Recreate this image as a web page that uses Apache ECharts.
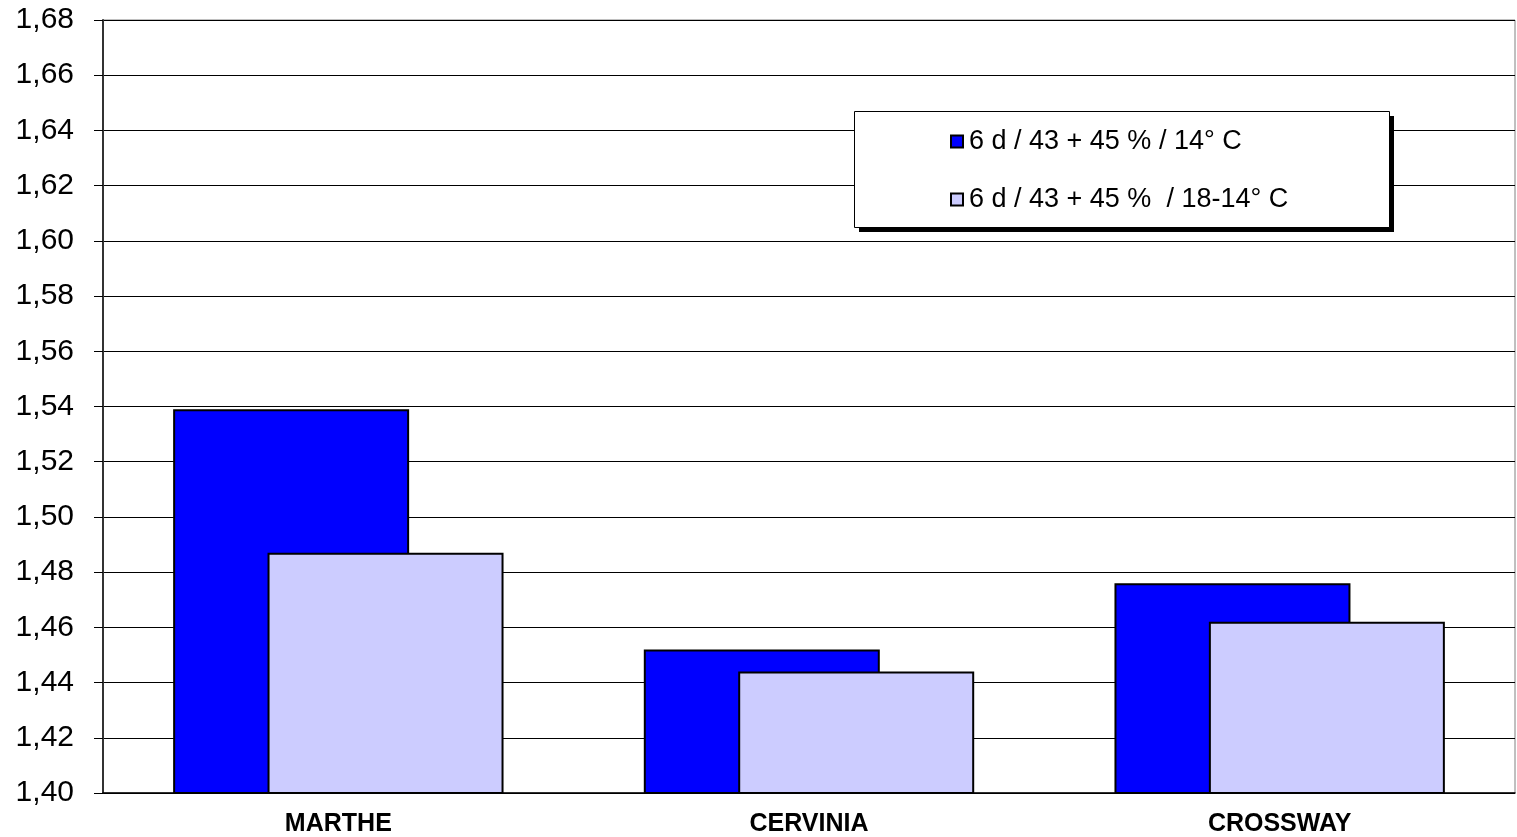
<!DOCTYPE html>
<html>
<head>
<meta charset="utf-8">
<script src="https://cdn.jsdelivr.net/npm/echarts@6/dist/echarts.min.js"></script>
<style>
html,body{margin:0;padding:0;background:#fff;}
#chart{width:1517px;height:837px;}
</style>
</head>
<body>
<div id="chart"></div>
<script>
const categories = ['MARTHE', 'CERVINIA', 'CROSSWAY'];
const seriesNames = ['6 d / 43 + 45 % / 14° C', '6 d / 43 + 45 %  / 18-14° C'];
const series1 = [1.539, 1.452, 1.476];
const series2 = [1.487, 1.444, 1.462];
const yMin = 1.40, yMax = 1.68, yStep = 0.02;

const chart = echarts.init(document.getElementById('chart'), null, {renderer: 'canvas'});
const font = '"Liberation Sans", Arial, sans-serif';
chart.setOption({
  animation: false,
  backgroundColor: '#fff',
  grid: {left: 103, right: 2, top: 20, bottom: 44, show: true, borderColor: '#808080', borderWidth: 1},
  graphic: [
    {type: 'rect', z: 3, shape: {x: 859, y: 116, width: 535, height: 116}, style: {fill: '#000'}},
    {type: 'rect', z: 3, shape: {x: 854.5, y: 111.5, width: 535, height: 116}, style: {fill: '#fff', stroke: '#000', lineWidth: 1}}
  ],
  legend: {
    orient: 'vertical',
    left: 950, top: 128,
    padding: 0,
    itemGap: 31,
    itemWidth: 12, itemHeight: 12,
    textStyle: {fontFamily: font, fontSize: 27, color: '#000', padding: [0,0,0,1]},
    icon: 'rect',
    data: seriesNames
  },
  xAxis: {
    type: 'category',
    data: categories,
    axisLine: {lineStyle: {color: '#000', width: 1.5}},
    axisTick: {show: false},
    axisLabel: {fontFamily: font, fontSize: 25, fontWeight: 'bold', color: '#000', margin: 19}
  },
  yAxis: {
    type: 'value',
    min: yMin, max: yMax, interval: yStep,
    axisLine: {show: true, lineStyle: {color: '#333', width: 2}},
    axisTick: {show: true, length: 9, lineStyle: {color: '#000'}},
    splitLine: {lineStyle: {color: '#000', width: 1}},
    axisLabel: {fontFamily: font, fontSize: 30, color: '#000', margin: 29,
      formatter: v => v.toFixed(2).replace('.', ',')}
  },
  series: [
    {name: seriesNames[0], type: 'bar', data: series1, barWidth: 236, barGap: '-60%',
     itemStyle: {color: '#0000FF', borderColor: '#000', borderWidth: 2}},
    {name: seriesNames[1], type: 'bar', data: series2, barWidth: 236, barGap: '-60%',
     itemStyle: {color: '#CCCCFF', borderColor: '#000', borderWidth: 2}}
  ]
});
</script>
</body>
</html>
